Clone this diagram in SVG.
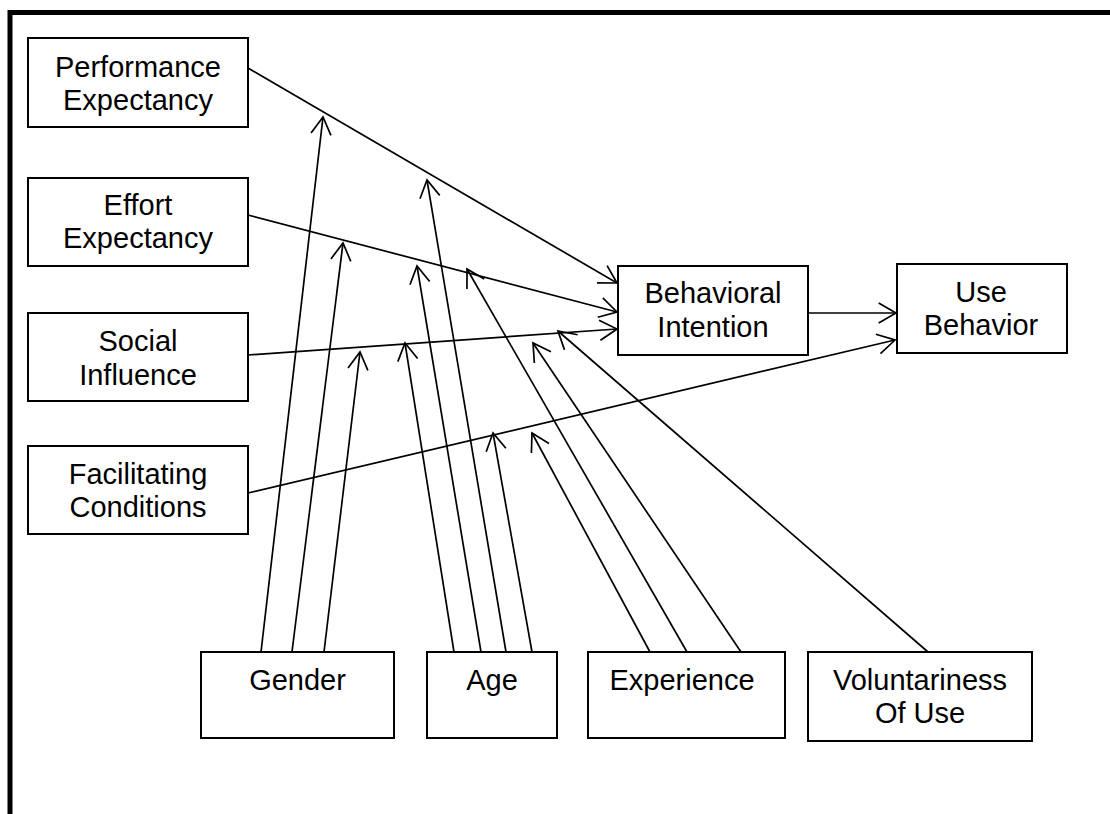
<svg xmlns="http://www.w3.org/2000/svg" width="1110" height="814" viewBox="0 0 1110 814">
<style>
.box{fill:#fff;stroke:#000;stroke-width:2}
.lbl{font-family:"Liberation Sans",Arial,sans-serif;font-size:29px;fill:#000;text-anchor:middle}
.con{stroke:#000;stroke-width:1.7;fill:none;marker-end:url(#arr)}
</style>
<defs>
<marker id="arr" viewBox="-20 -20 40 40" markerWidth="40" markerHeight="40" refX="0" refY="0" orient="auto" markerUnits="userSpaceOnUse">
<path d="M-17.3,-10 L0,0 L-17.3,10" fill="none" stroke="#000" stroke-width="1.7"/>
</marker>
</defs>
<rect width="1110" height="814" fill="#fff"/>
<path d="M10,814 V12.5 H1110" fill="none" stroke="#000" stroke-width="5"/>

<g id="connectors">
<line class="con" x1="248" y1="68" x2="617" y2="283"/>
<line class="con" x1="248" y1="215" x2="617" y2="312"/>
<line class="con" x1="248" y1="355" x2="617" y2="329"/>
<line class="con" x1="248" y1="493" x2="895" y2="340"/>
<line class="con" x1="808" y1="313" x2="896" y2="313"/>
<line class="con" x1="261" y1="652" x2="323" y2="117"/>
<line class="con" x1="292" y1="652" x2="343" y2="243"/>
<line class="con" x1="324" y1="652" x2="360" y2="352"/>
<line class="con" x1="454" y1="652" x2="405" y2="343"/>
<line class="con" x1="481" y1="652" x2="417" y2="266"/>
<line class="con" x1="506" y1="652" x2="427" y2="180"/>
<line class="con" x1="532" y1="652" x2="493" y2="433"/>
<line class="con" x1="650" y1="652" x2="532" y2="433"/>
<line class="con" x1="687" y1="652" x2="467" y2="269"/>
<line class="con" x1="741" y1="652" x2="533" y2="343"/>
<line class="con" x1="928" y1="652" x2="558" y2="331"/>
</g>

<g id="performance-expectancy">
<rect class="box" x="28" y="38" width="220" height="89"/>
<text class="lbl" x="138" y="77">Performance</text>
<text class="lbl" x="138" y="110">Expectancy</text>
</g>
<g id="effort-expectancy">
<rect class="box" x="28" y="178" width="220" height="88"/>
<text class="lbl" x="138" y="215">Effort</text>
<text class="lbl" x="138" y="248">Expectancy</text>
</g>
<g id="social-influence">
<rect class="box" x="28" y="313" width="220" height="88"/>
<text class="lbl" x="138" y="351">Social</text>
<text class="lbl" x="138" y="385">Influence</text>
</g>
<g id="facilitating-conditions">
<rect class="box" x="28" y="446" width="220" height="88"/>
<text class="lbl" x="138" y="484">Facilitating</text>
<text class="lbl" x="138" y="517">Conditions</text>
</g>
<g id="behavioral-intention">
<rect class="box" x="618" y="266" width="190" height="89"/>
<text class="lbl" x="713" y="303">Behavioral</text>
<text class="lbl" x="713" y="337">Intention</text>
</g>
<g id="use-behavior">
<rect class="box" x="897" y="264" width="170" height="89"/>
<text class="lbl" x="981" y="302">Use</text>
<text class="lbl" x="981" y="335">Behavior</text>
</g>
<g id="gender">
<rect class="box" x="201" y="652" width="193" height="86"/>
<text class="lbl" x="297.5" y="690">Gender</text>
</g>
<g id="age">
<rect class="box" x="427" y="652" width="130" height="86"/>
<text class="lbl" x="492" y="690">Age</text>
</g>
<g id="experience">
<rect class="box" x="588" y="652" width="197" height="86"/>
<text class="lbl" x="682" y="690">Experience</text>
</g>
<g id="voluntariness">
<rect class="box" x="808" y="652" width="224" height="89"/>
<text class="lbl" x="920" y="690">Voluntariness</text>
<text class="lbl" x="920" y="723">Of Use</text>
</g>
</svg>
